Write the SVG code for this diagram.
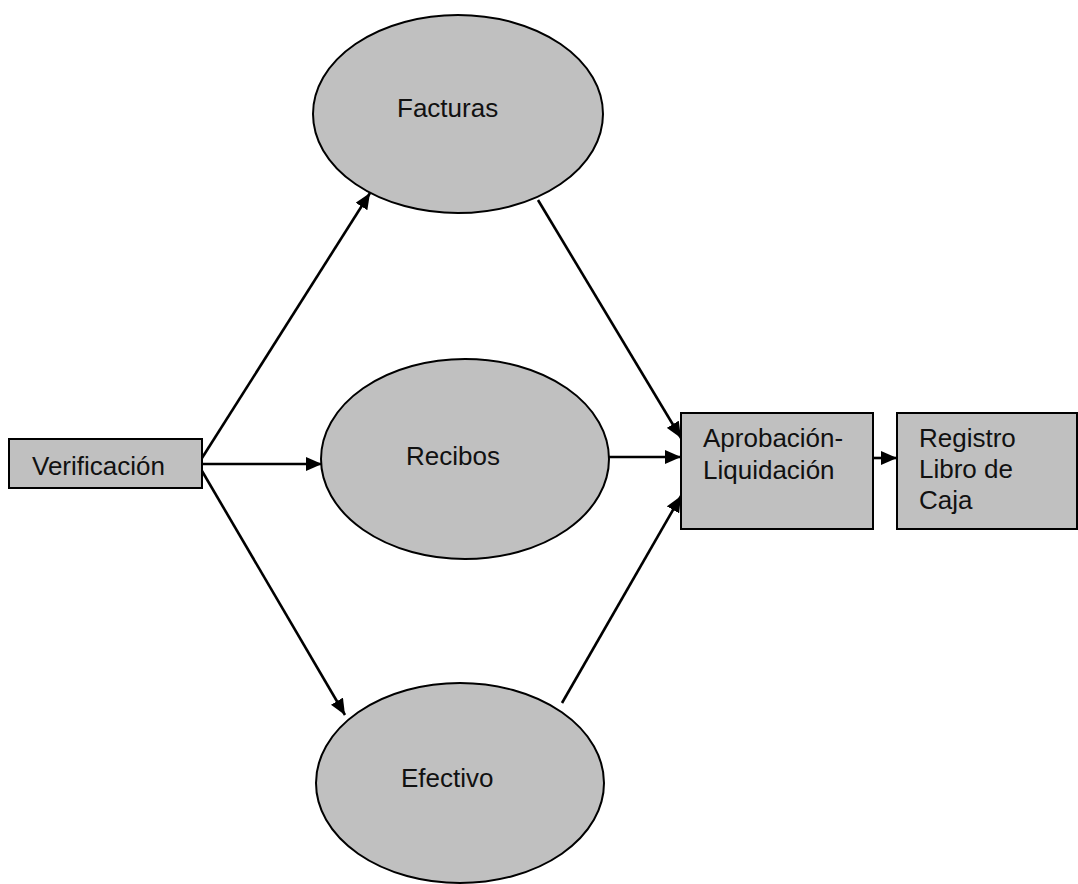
<svg xmlns="http://www.w3.org/2000/svg" width="1078" height="884" viewBox="0 0 1078 884">
  <style>
    .shape { fill: #c0c0c0; stroke: #000; stroke-width: 2; }
    .label { font-family: "Liberation Sans", Arial, sans-serif; font-size: 26px; fill: #111; }
    .edge { stroke: #000; stroke-width: 2.6; fill: none; marker-end: url(#arrow); }
  </style>
  <defs>
    <marker id="arrow" markerWidth="16" markerHeight="14" refX="16" refY="7" orient="auto" markerUnits="userSpaceOnUse">
      <path d="M0,0 L16,7 L0,14 Z" fill="#000"/>
    </marker>
  </defs>
  <rect width="1078" height="884" fill="#fff"/>

  <g id="connectors">
    <line class="edge" x1="202" y1="458" x2="370" y2="193"/>
    <line class="edge" x1="202" y1="464" x2="322" y2="464"/>
    <line class="edge" x1="202" y1="471" x2="345" y2="715"/>
    <line class="edge" x1="538" y1="200" x2="681" y2="438"/>
    <line class="edge" x1="609" y1="457" x2="681" y2="457"/>
    <line class="edge" x1="562" y1="703" x2="681" y2="496"/>
    <line class="edge" x1="873" y1="458" x2="897" y2="458"/>
  </g>

  <g id="verificacion">
    <rect class="shape" x="9" y="439" width="193" height="49"/>
    <text class="label" x="32" y="475">Verificación</text>
  </g>

  <g id="facturas">
    <ellipse class="shape" cx="458" cy="114" rx="145" ry="99"/>
    <text class="label" x="397" y="117">Facturas</text>
  </g>

  <g id="recibos">
    <ellipse class="shape" cx="465" cy="459" rx="144" ry="100"/>
    <text class="label" x="406" y="465">Recibos</text>
  </g>

  <g id="efectivo">
    <ellipse class="shape" cx="460" cy="783" rx="144" ry="100"/>
    <text class="label" x="401" y="787">Efectivo</text>
  </g>

  <g id="aprobacion">
    <rect class="shape" x="681" y="413" width="192" height="116"/>
    <text class="label" x="703" y="447">Aprobación-</text>
    <text class="label" x="703" y="479">Liquidación</text>
  </g>

  <g id="registro">
    <rect class="shape" x="897" y="413" width="180" height="116"/>
    <text class="label" x="919" y="447">Registro</text>
    <text class="label" x="919" y="478">Libro de</text>
    <text class="label" x="919" y="509">Caja</text>
  </g>
</svg>
